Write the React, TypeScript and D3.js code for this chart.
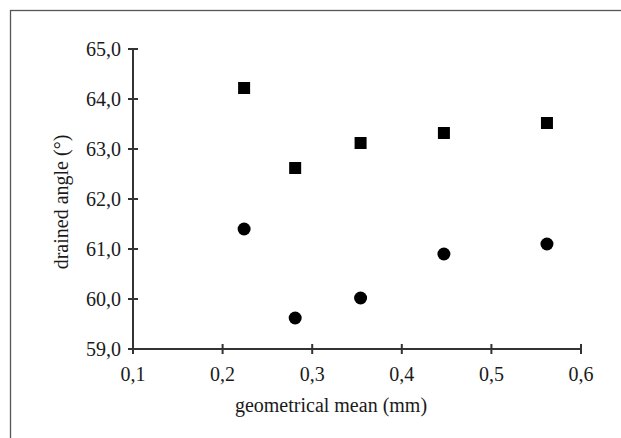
import * as d3 from "d3";
import { useEffect, useRef } from "react";

// geometrical mean of the sieve fractions (mm)
const grainSizes = [0.224, 0.281, 0.354, 0.447, 0.562];
// drained angle, upper series (squares)
const squareAngles = [64.22, 62.62, 63.12, 63.32, 63.52];
// drained angle, lower series (circles)
const circleAngles = [61.4, 59.62, 60.02, 60.9, 61.1];

const xTicks = [0.1, 0.2, 0.3, 0.4, 0.5, 0.6];
const yTicks = [59, 60, 61, 62, 63, 64, 65];

const App = () => {
    const ref = useRef<SVGSVGElement>(null);

    useEffect(() => {
        const svg = d3.select(ref.current);
        svg.selectAll("*").remove();

        const width = 621;
        const height = 438;
        const font = "'Liberation Serif', 'Times New Roman', serif";
        const fontSize = 20;
        const axisColor = "#333";
        const textColor = "#1a1a1a";

        //frame round the picture, cut off at right and bottom
        svg.append("rect")
            .attr("x", 10.5)
            .attr("y", 10.5)
            .attr("width", width + 20)
            .attr("height", height + 20)
            .attr("fill", "none")
            .attr("stroke", "#555")
            .attr("stroke-width", 1.3);

        const x = d3.scaleLinear().domain([0.1, 0.6]).range([133, 581]);
        const y = d3.scaleLinear().domain([59, 65]).range([349, 49]);

        const fmt = (d: number, digits: number) => d.toFixed(digits).replace(".", ",");

        // y axis
        svg.append("line")
            .attr("x1", x(0.1)).attr("x2", x(0.1))
            .attr("y1", y(65)).attr("y2", y(59))
            .attr("stroke", axisColor).attr("stroke-width", 2);
        const yg = svg.append("g");
        yg.selectAll("line")
            .data(yTicks)
            .enter()
            .append("line")
            .attr("x1", x(0.1) - 5)
            .attr("x2", x(0.1) + 5)
            .attr("y1", (d) => y(d))
            .attr("y2", (d) => y(d))
            .attr("stroke", axisColor)
            .attr("stroke-width", 2);
        yg.selectAll("text")
            .data(yTicks)
            .enter()
            .append("text")
            .attr("x", x(0.1) - 12)
            .attr("y", (d) => y(d))
            .attr("dy", "0.35em")
            .attr("text-anchor", "end")
            .attr("font-family", font)
            .attr("font-size", fontSize)
            .attr("fill", textColor)
            .text((d) => fmt(d, 1));

        // x axis
        svg.append("line")
            .attr("x1", x(0.1)).attr("x2", x(0.6))
            .attr("y1", y(59)).attr("y2", y(59))
            .attr("stroke", axisColor).attr("stroke-width", 2);
        const xg = svg.append("g");
        xg.selectAll("line")
            .data(xTicks)
            .enter()
            .append("line")
            .attr("x1", (d) => x(d))
            .attr("x2", (d) => x(d))
            .attr("y1", y(59) - 5)
            .attr("y2", y(59) + 5)
            .attr("stroke", axisColor)
            .attr("stroke-width", 2);
        xg.selectAll("text")
            .data(xTicks)
            .enter()
            .append("text")
            .attr("x", (d) => x(d))
            .attr("y", 381)
            .attr("text-anchor", "middle")
            .attr("font-family", font)
            .attr("font-size", fontSize)
            .attr("fill", textColor)
            .text((d) => fmt(d, 1));

        // axis titles
        svg.append("text")
            .attr("x", 331)
            .attr("y", 412)
            .attr("text-anchor", "middle")
            .attr("font-family", font)
            .attr("font-size", fontSize)
            .attr("fill", textColor)
            .text("geometrical mean (mm)");
        svg.append("text")
            .attr("transform", "translate(68, 202) rotate(-90)")
            .attr("text-anchor", "middle")
            .attr("font-family", font)
            .attr("font-size", fontSize)
            .attr("fill", textColor)
            .text("drained angle (°)");

        // squares
        const side = 12;
        svg.append("g")
            .selectAll("rect")
            .data(squareAngles)
            .enter()
            .append("rect")
            .attr("x", (d, i) => x(grainSizes[i]) - side / 2)
            .attr("y", (d) => y(d) - side / 2)
            .attr("width", side)
            .attr("height", side)
            .attr("fill", "#000");

        // circles
        svg.append("g")
            .selectAll("circle")
            .data(circleAngles)
            .enter()
            .append("circle")
            .attr("cx", (d, i) => x(grainSizes[i]))
            .attr("cy", (d) => y(d))
            .attr("r", 6.5)
            .attr("fill", "#000");
    }, []);

    return (
        <svg
            ref={ref}
            width={621}
            height={438}
            style={{ position: "absolute", left: 0, top: 0, background: "#fff" }}
        />
    );
};

export default App;
